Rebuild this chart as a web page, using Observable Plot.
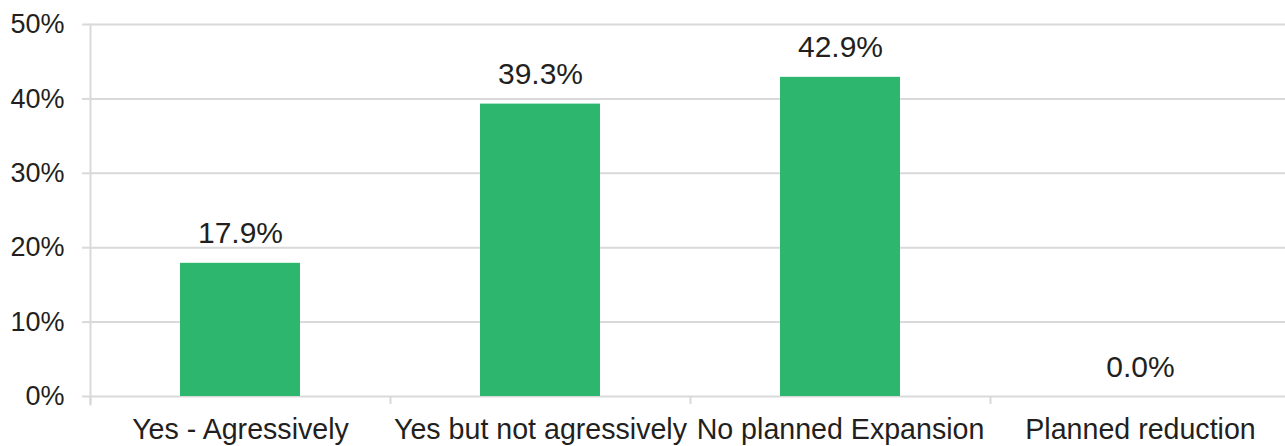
<!DOCTYPE html>
<html>
<head>
<meta charset="utf-8">
<script src="https://cdn.jsdelivr.net/npm/d3@7"></script>
<script src="https://cdn.jsdelivr.net/npm/@observablehq/plot@0.6"></script>
<style>
  html, body { margin: 0; padding: 0; background: #fff; }
</style>
</head>
<body>
<div id="chart"></div>
<script>
const categories = ["Yes - Agressively", "Yes but not agressively", "No planned Expansion", "Planned reduction"];
const values = [17.9, 39.3, 42.9, 0.0];
const yTicks = [0, 10, 20, 30, 40, 50];

const data = categories.map((c, i) => ({category: c, value: values[i]}));

const grid = "#d9d9d9";
const textColor = "#231f20";

const chart = Plot.plot({
  width: 1285,
  height: 446,
  marginLeft: 90,
  marginRight: 0,
  marginTop: 24,
  marginBottom: 50,
  style: {fontFamily: "'Liberation Sans', Arial, sans-serif", color: textColor, background: "#fff"},
  x: {domain: categories, range: [90, 1290], paddingInner: 0.6, paddingOuter: 0.3},
  y: {domain: [0, 50], ticks: yTicks},
  marks: [
    Plot.ruleY(yTicks, {stroke: grid, strokeWidth: 2}),
    Plot.frame({anchor: "left", stroke: grid, strokeWidth: 2, insetBottom: -8}),
    Plot.barY(data, {x: "category", y: "value", fill: "#2db66e"}),
    Plot.text(data, {x: "category", y: "value", text: d => d.value.toFixed(1) + "%", dy: -20, lineAnchor: "bottom", fontSize: 30, fill: textColor}),
    Plot.axisY({ticks: yTicks, tickSize: 8, tickPadding: 18, tickFormat: d => d + "%", stroke: grid, strokeWidth: 2, strokeOpacity: 1, label: null, fontSize: 27, fill: textColor}),
    Plot.axisX({tickSize: 8, dx: -150, text: null, stroke: grid, strokeWidth: 2, strokeOpacity: 1, label: null}),
    Plot.axisX({tickSize: 0, tickPadding: 22, label: null, fontSize: 28.6, fill: textColor})
  ]
});
document.getElementById("chart").appendChild(chart);
</script>
</body>
</html>
